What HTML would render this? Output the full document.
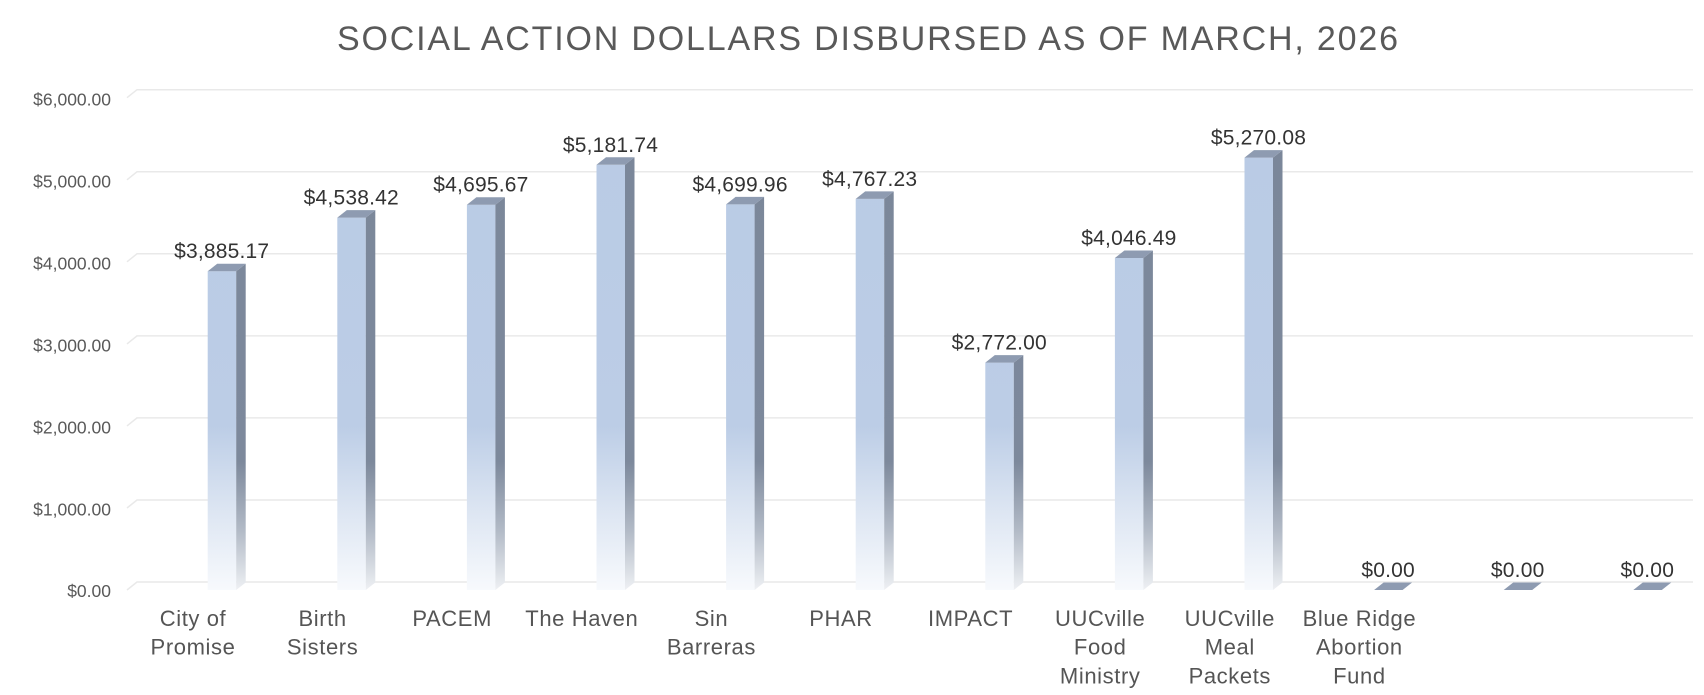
<!DOCTYPE html>
<html><head><meta charset="utf-8"><style>
html,body{margin:0;padding:0;background:#fff;}
svg{display:block;}
text{font-family:"Liberation Sans",Arial,sans-serif;}
</style></head><body>
<svg width="1704" height="695" viewBox="0 0 1704 695" xmlns="http://www.w3.org/2000/svg">
<defs>
<linearGradient id="gf" gradientUnits="userSpaceOnUse" x1="0" y1="0" x2="0" y2="592">
<stop offset="0" stop-color="#b8cae4"/>
<stop offset="0.72" stop-color="#bccde6"/>
<stop offset="0.86" stop-color="#dce5f2"/>
<stop offset="1" stop-color="#f8fafd"/>
</linearGradient>
<linearGradient id="gs" gradientUnits="userSpaceOnUse" x1="0" y1="0" x2="0" y2="592">
<stop offset="0" stop-color="#7a8699"/>
<stop offset="0.78" stop-color="#7d899c"/>
<stop offset="0.9" stop-color="#b4bcc8"/>
<stop offset="1" stop-color="#f0f2f5"/>
</linearGradient>
</defs>
<rect width="1704" height="695" fill="#fff"/>
<text x="337" y="50" font-size="34" fill="#595959" textLength="1061" lengthAdjust="spacing">SOCIAL ACTION DOLLARS DISBURSED AS OF MARCH, 2026</text>
<g stroke="#e9e9e9" stroke-width="1.5" fill="none">
<polyline points="127,97.7 137,89.7 1693,89.7"/>
<polyline points="127,179.8 137,171.8 1693,171.8"/>
<polyline points="127,261.8 137,253.8 1693,253.8"/>
<polyline points="127,343.9 137,335.9 1693,335.9"/>
<polyline points="127,425.9 137,417.9 1693,417.9"/>
<polyline points="127,508 137,500 1693,500"/>
<polyline points="127,590 137,582 1693,582"/>
</g>
<g font-size="17.5" fill="#595959" text-anchor="end">
<text x="111" y="105.5">$6,000.00</text>
<text x="111" y="187.5">$5,000.00</text>
<text x="111" y="269.5">$4,000.00</text>
<text x="111" y="351.5">$3,000.00</text>
<text x="111" y="433.5">$2,000.00</text>
<text x="111" y="515.5">$1,000.00</text>
<text x="111" y="597">$0.00</text>
</g>

<!-- bars -->
<g>
<rect x="207.7" y="271.2" width="28.5" height="318.8" fill="url(#gf)"/>
<polygon points="236.2,271.2 245.7,263.7 245.7,582.5 236.2,590" fill="url(#gs)"/>
<polygon points="207.7,271.2 217.2,263.7 245.7,263.7 236.2,271.2" fill="#8e9bb1"/>

<rect x="337.3" y="217.6" width="28.5" height="372.4" fill="url(#gf)"/>
<polygon points="365.8,217.6 375.3,210.1 375.3,582.5 365.8,590" fill="url(#gs)"/>
<polygon points="337.3,217.6 346.8,210.1 375.3,210.1 365.8,217.6" fill="#8e9bb1"/>

<rect x="466.9" y="204.7" width="28.5" height="385.3" fill="url(#gf)"/>
<polygon points="495.4,204.7 504.9,197.2 504.9,582.5 495.4,590" fill="url(#gs)"/>
<polygon points="466.9,204.7 476.4,197.2 504.9,197.2 495.4,204.7" fill="#8e9bb1"/>

<rect x="596.5" y="164.8" width="28.5" height="425.2" fill="url(#gf)"/>
<polygon points="625,164.8 634.5,157.3 634.5,582.5 625,590" fill="url(#gs)"/>
<polygon points="596.5,164.8 606,157.3 634.5,157.3 625,164.8" fill="#8e9bb1"/>

<rect x="726.1" y="204.4" width="28.5" height="385.6" fill="url(#gf)"/>
<polygon points="754.6,204.4 764.1,196.9 764.1,582.5 754.6,590" fill="url(#gs)"/>
<polygon points="726.1,204.4 735.6,196.9 764.1,196.9 754.6,204.4" fill="#8e9bb1"/>

<rect x="855.7" y="198.9" width="28.5" height="391.1" fill="url(#gf)"/>
<polygon points="884.2,198.9 893.7,191.4 893.7,582.5 884.2,590" fill="url(#gs)"/>
<polygon points="855.7,198.9 865.2,191.4 893.7,191.4 884.2,198.9" fill="#8e9bb1"/>

<rect x="985.3" y="362.6" width="28.5" height="227.4" fill="url(#gf)"/>
<polygon points="1013.8,362.6 1023.3,355.1 1023.3,582.5 1013.8,590" fill="url(#gs)"/>
<polygon points="985.3,362.6 994.8,355.1 1023.3,355.1 1013.8,362.6" fill="#8e9bb1"/>

<rect x="1114.9" y="258" width="28.5" height="332" fill="url(#gf)"/>
<polygon points="1143.4,258 1152.9,250.5 1152.9,582.5 1143.4,590" fill="url(#gs)"/>
<polygon points="1114.9,258 1124.4,250.5 1152.9,250.5 1143.4,258" fill="#8e9bb1"/>

<rect x="1244.5" y="157.6" width="28.5" height="432.4" fill="url(#gf)"/>
<polygon points="1273,157.6 1282.5,150.1 1282.5,582.5 1273,590" fill="url(#gs)"/>
<polygon points="1244.5,157.6 1254,150.1 1282.5,150.1 1273,157.6" fill="#8e9bb1"/>

<polygon points="1374.1,590 1383.6,582.5 1412.1,582.5 1402.6,590" fill="#8e9bb1"/>
<polygon points="1503.7,590 1513.2,582.5 1541.7,582.5 1532.2,590" fill="#8e9bb1"/>
<polygon points="1633.3,590 1642.8,582.5 1671.3,582.5 1661.8,590" fill="#8e9bb1"/>
</g>

<g font-size="21" fill="#333" text-anchor="middle" letter-spacing="0.2">
<text x="221.7" y="258.2">$3,885.17</text>
<text x="351.3" y="204.6">$4,538.42</text>
<text x="480.9" y="191.7">$4,695.67</text>
<text x="610.5" y="151.8">$5,181.74</text>
<text x="740.1" y="191.4">$4,699.96</text>
<text x="869.7" y="185.9">$4,767.23</text>
<text x="999.3" y="349.6">$2,772.00</text>
<text x="1128.9" y="245">$4,046.49</text>
<text x="1258.5" y="144.6">$5,270.08</text>
<text x="1388.1" y="577">$0.00</text>
<text x="1517.7" y="577">$0.00</text>
<text x="1647.3" y="577">$0.00</text>
</g>

<g font-size="22" fill="#555" text-anchor="middle" letter-spacing="0.6">
<text x="193" y="626">City of</text>
<text x="193" y="654.7">Promise</text>
<text x="322.6" y="626">Birth</text>
<text x="322.6" y="654.7">Sisters</text>
<text x="452.2" y="626">PACEM</text>
<text x="581.8" y="626">The Haven</text>
<text x="711.4" y="626">Sin</text>
<text x="711.4" y="654.7">Barreras</text>
<text x="841" y="626">PHAR</text>
<text x="970.6" y="626">IMPACT</text>
<text x="1100.2" y="626">UUCville</text>
<text x="1100.2" y="654.7">Food</text>
<text x="1100.2" y="683.4">Ministry</text>
<text x="1229.8" y="626">UUCville</text>
<text x="1229.8" y="654.7">Meal</text>
<text x="1229.8" y="683.4">Packets</text>
<text x="1359.4" y="626">Blue Ridge</text>
<text x="1359.4" y="654.7">Abortion</text>
<text x="1359.4" y="683.4">Fund</text>
</g>
</svg>
</body></html>
